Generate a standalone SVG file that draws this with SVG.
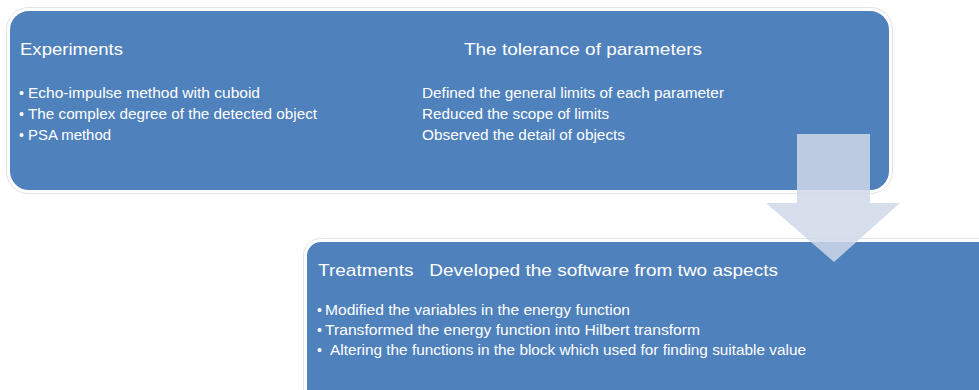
<svg xmlns="http://www.w3.org/2000/svg" width="979" height="390" viewBox="0 0 979 390">
<style>
.box{fill:#4f81bd;stroke:#ffffff;stroke-width:2}
.halo{fill:none;stroke:#dfe3ea;stroke-width:1}
.t{font-family:"Liberation Sans",Arial,sans-serif;fill:#ffffff}
.h{font-size:17px}
.b{font-size:14px}
.arrow{fill:#cfd8e9;fill-opacity:0.85}
</style>
<rect width="979" height="390" fill="#ffffff"/>
<g id="experiments">
<rect class="halo" x="6.5" y="7.5" width="886" height="186" rx="22"/>
<rect class="box" x="9" y="10" width="881" height="181" rx="20"/>
<text class="t h" x="20" y="55" textLength="103" lengthAdjust="spacingAndGlyphs">Experiments</text>
<text class="t b" x="19" y="98">•</text>
<text class="t b" x="28" y="98" textLength="232" lengthAdjust="spacingAndGlyphs">Echo-impulse method with cuboid</text>
<text class="t b" x="19" y="119">•</text>
<text class="t b" x="28" y="119" textLength="289" lengthAdjust="spacingAndGlyphs">The complex degree of the detected object</text>
<text class="t b" x="19" y="140">•</text>
<text class="t b" x="28" y="140" textLength="83" lengthAdjust="spacingAndGlyphs">PSA method</text>
</g>
<g id="tolerance">
<text class="t h" x="464" y="55" textLength="238" lengthAdjust="spacingAndGlyphs">The tolerance of parameters</text>
<text class="t b" x="422" y="98" textLength="302" lengthAdjust="spacingAndGlyphs">Defined the general limits of each parameter</text>
<text class="t b" x="422" y="119" textLength="187" lengthAdjust="spacingAndGlyphs">Reduced the scope of limits</text>
<text class="t b" x="422" y="140" textLength="203" lengthAdjust="spacingAndGlyphs">Observed the detail of objects</text>
</g>
<g id="treatments">
<rect class="halo" x="303.5" y="238.5" width="700" height="170" rx="17"/>
<rect class="box" x="306" y="241" width="700" height="170" rx="15"/>
<text class="t h" x="318" y="276" textLength="460" lengthAdjust="spacingAndGlyphs" xml:space="preserve">Treatments   Developed the software from two aspects</text>
<text class="t b" x="317" y="315">•</text>
<text class="t b" x="325" y="315" textLength="305" lengthAdjust="spacingAndGlyphs">Modified the variables in the energy function</text>
<text class="t b" x="317" y="335">•</text>
<text class="t b" x="325" y="335" textLength="375" lengthAdjust="spacingAndGlyphs">Transformed the energy function into Hilbert transform</text>
<text class="t b" x="317" y="355">•</text>
<text class="t b" x="330" y="355" textLength="476" lengthAdjust="spacingAndGlyphs">Altering the functions in the block which used for finding suitable value</text>
</g>
<g id="connectors">
<polygon class="arrow" points="797,134 870,134 870,203 900,203 834,262 766,203 797,203"/>
</g>
</svg>
